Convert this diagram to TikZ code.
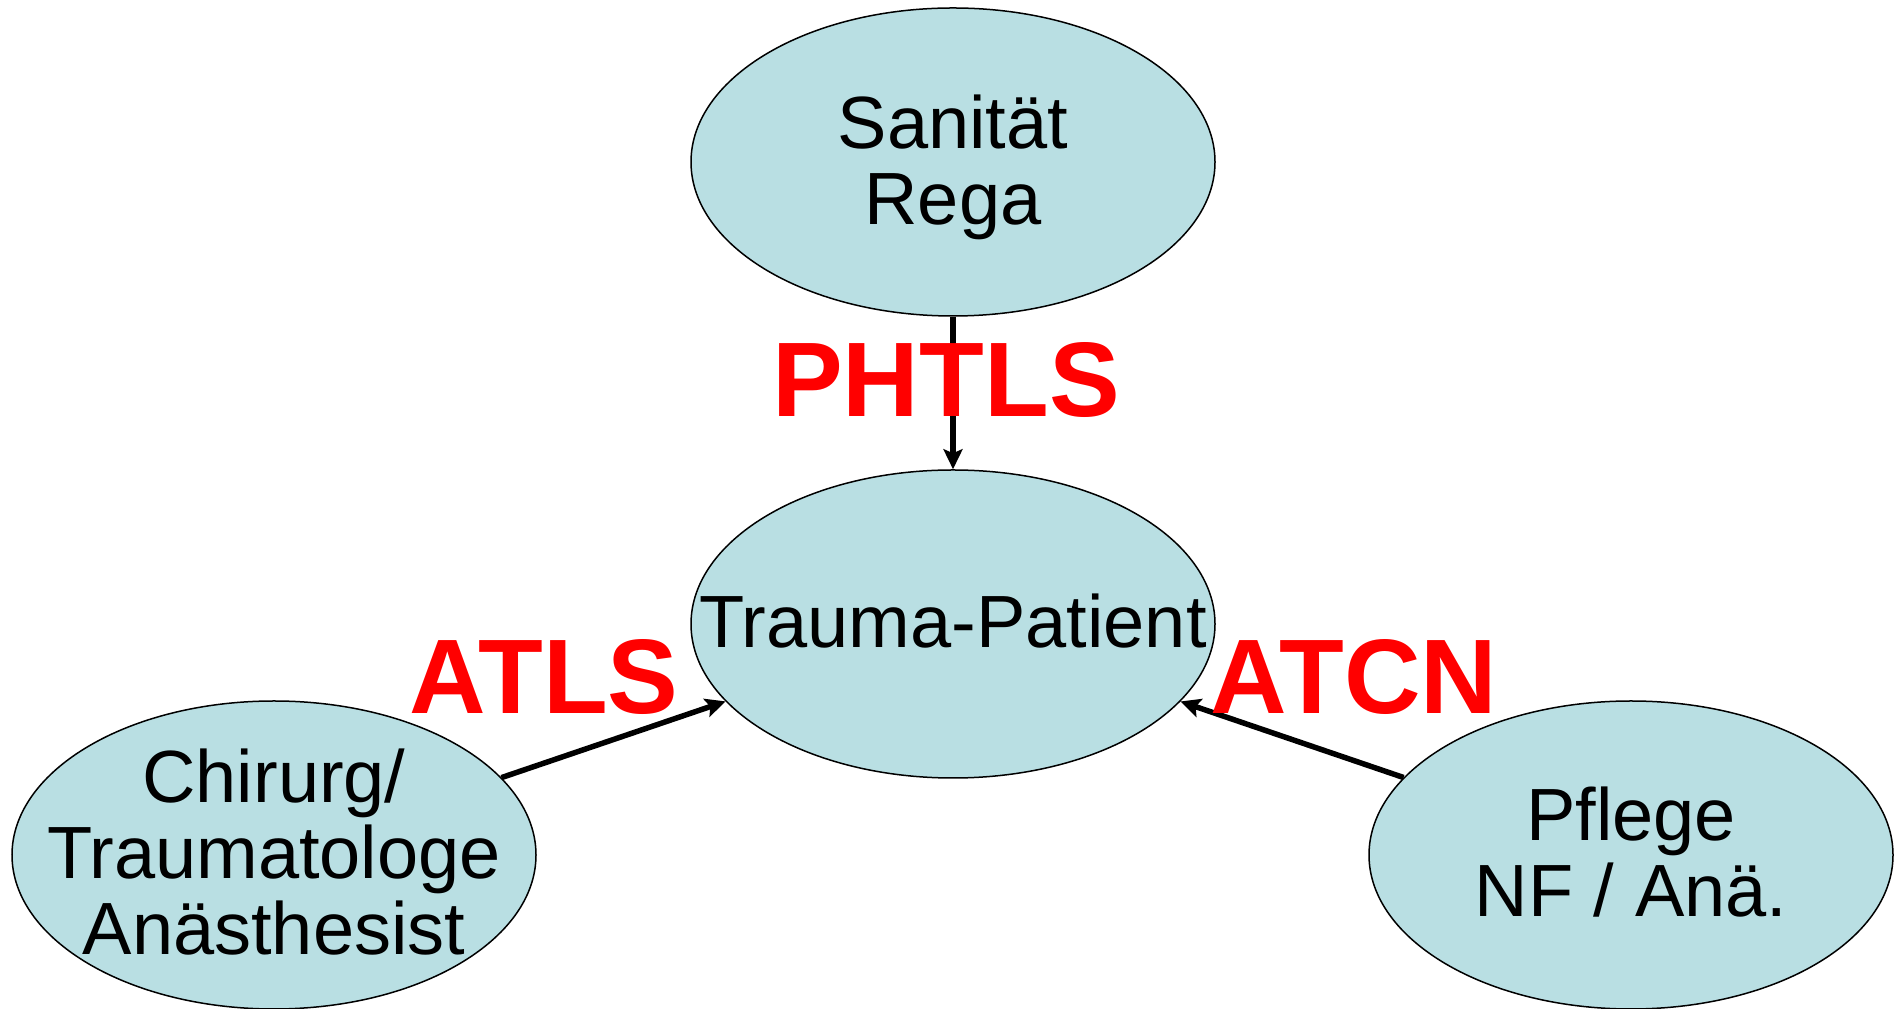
\documentclass[tikz,border=0pt]{standalone}
\usepackage{fontspec}
\setmainfont{Liberation Sans}
\usetikzlibrary{shapes.geometric,arrows.meta}
\definecolor{bubblefill}{RGB}{185,223,227}
\definecolor{lblred}{RGB}{255,0,0}
\begin{document}
\begin{tikzpicture}[x=1pt,y=1pt,
  bubble/.style={ellipse, draw=black, line width=1.5pt, fill=bubblefill,
    minimum width=524pt, minimum height=308pt, inner sep=0pt},
  txt/.style={font=\fontsize{74}{76}\selectfont, align=center, inner sep=0pt},
  lbl/.style={font=\fontsize{106}{110}\selectfont\bfseries, text=lblred, inner sep=0pt},
  conn/.style={line width=5.5pt, -{Stealth[length=20pt,width=19pt,inset=4pt]}}]
\useasboundingbox (0,0) rectangle (1901,1009);
\node[bubble] (S) at (953,847) {};
\node[bubble] (C) at (953,385) {};
\node[bubble] (L) at (274,154) {};
\node[bubble] (R) at (1631,154) {};
\node[txt] (St) at (953,842) {Sanität\\Rega};
\node[txt] (Ct) at (953,388) {Trauma-Patient};
\node[txt] (Lt) at (274,157) {Chirurg/\\Traumatologe\\Anästhesist};
\node[txt] (Rt) at (1631,157) {Pflege\\NF / Anä.};
\draw[conn] (S) -- (C);
\draw[conn] (L) -- (C);
\draw[conn] (R) -- (C);
\node[lbl] (phtls) at (946,629) {PHTLS};
\node[lbl] (atls) at (544,332) {ATLS};
\node[lbl] (atcn) at (1354,332) {ATCN};
\end{tikzpicture}
\end{document}
